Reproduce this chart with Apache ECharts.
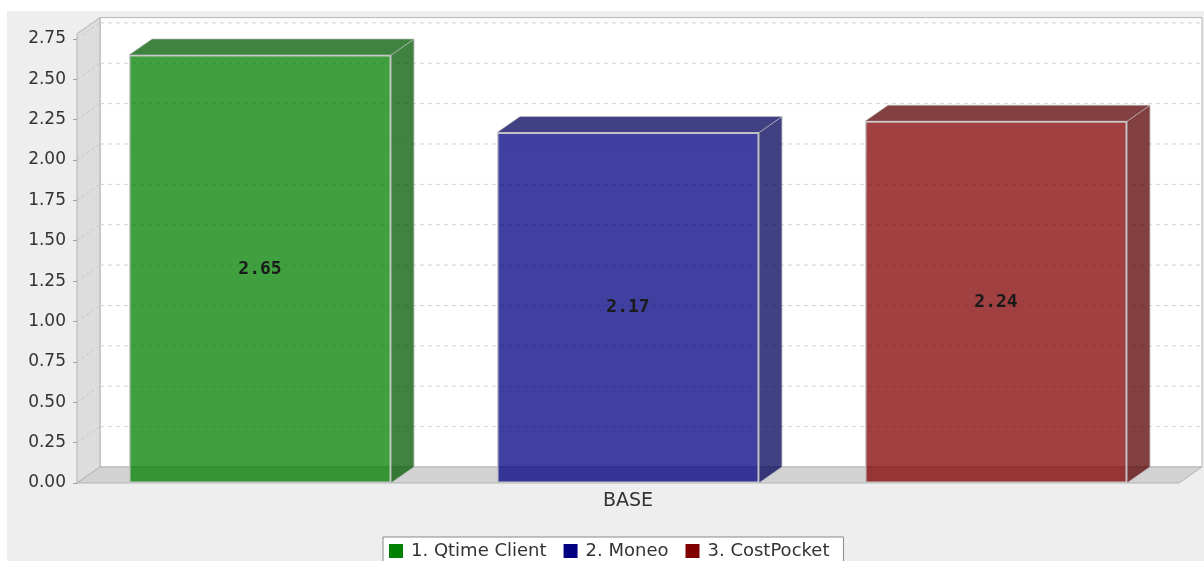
<!DOCTYPE html>
<html><head><meta charset="utf-8">
<script src="https://cdn.jsdelivr.net/npm/echarts@6/dist/echarts.min.js"></script>
<style>html,body{margin:0;padding:0;background:#fff}#c{width:1204px;height:561px}</style>
</head><body><div id="c"></div>
<script>
// ---- data ----
const categories = ['BASE'];
const seriesNames = ['1. Qtime Client', '2. Moneo', '3. CostPocket'];
const seriesValues = [2.65, 2.17, 2.24];
const tickValues = [0, 0.25, 0.5, 0.75, 1.0, 1.25, 1.5, 1.75, 2.0, 2.25, 2.5, 2.75];
const axisMax = 2.7825;

// ---- styles ----
const seriesColors = [[0,128,0],[0,0,128],[128,0,0]];
const DX = 23, DY = 16;          // 3D depth offset
const BAR_W = 262, BAR_GAP = 106;
const ALPHA = 0.75;
const rgba = (c, a) => 'rgba(' + c[0] + ',' + c[1] + ',' + c[2] + ',' + a + ')';
const hex = c => '#' + c.map(v => v.toString(16).padStart(2, '0')).join('');
const darker = c => c.map(v => Math.floor(v * 0.7));

function renderEnv(params, api) {
  const cs = params.coordSys;
  const x0 = cs.x, x1 = cs.x + cs.width, yT = cs.y, yB = cs.y + cs.height;
  const ch = [];
  ch.push({type:'rect', shape:{x:x0+DX, y:yT-DY, width:cs.width, height:cs.height},
           style:{fill:'#ffffff', stroke:'#B4B4B4', lineWidth:1}});
  ch.push({type:'polygon', shape:{points:[[x0,yB],[x0,yT],[x0+DX,yT-DY],[x0+DX,yB-DY]]},
           style:{fill:'#DDDDDD', stroke:'#B4B4B4', lineWidth:1}});
  ch.push({type:'polygon', shape:{points:[[x0,yB],[x1,yB],[x1+DX,yB-DY],[x0+DX,yB-DY]]},
           style:{fill:'#D2D2D2', stroke:'#B4B4B4', lineWidth:1}});
  tickValues.forEach(v => {
    if (v === 0) return;
    const y = api.coord([0, v])[1];
    ch.push({type:'line', shape:{x1:x0+DX, y1:y-DY, x2:x1+DX, y2:y-DY},
             style:{stroke:'#D2D2D2', lineWidth:1, lineDash:[4,4]}});
    ch.push({type:'line', shape:{x1:x0, y1:y, x2:x0+DX, y2:y-DY},
             style:{stroke:'#C6C6C6', lineWidth:1, lineDash:[3,3]}});
  });
  return {type:'group', children:ch};
}

function renderFaces(params, api) {
  const i = api.value(2);
  const n = seriesValues.length;
  const top = api.coord([api.value(0), api.value(1)]);
  const base = api.coord([api.value(0), 0]);
  const cx = top[0] + (i - (n - 1) / 2) * (BAR_W + BAR_GAP);
  const L = cx - BAR_W / 2, R = cx + BAR_W / 2, yT = top[1], yB = base[1];
  const fillC = rgba(darker(seriesColors[i]), ALPHA);
  return {type:'group', children:[
    {type:'polygon', shape:{points:[[R,yT],[R+DX,yT-DY],[R+DX,yB-DY],[R,yB]]},
     style:{fill:fillC, stroke:'rgba(190,190,190,0.9)', lineWidth:1}},
    {type:'polygon', shape:{points:[[L,yT],[R,yT],[R+DX,yT-DY],[L+DX,yT-DY]]},
     style:{fill:fillC, stroke:'rgba(190,190,190,0.6)', lineWidth:1}}
  ]};
}

const series = [{
  type:'custom', silent:true, z:1, clip:false,
  renderItem: renderEnv, data:[[0, 0]]
}];
seriesNames.forEach((name, i) => {
  series.push({
    name: name, type:'bar', z:3,
    barWidth: BAR_W, barGap: (BAR_GAP / BAR_W * 100).toFixed(3) + '%',
    data: [seriesValues[i]],
    itemStyle: {color: rgba(seriesColors[i], ALPHA), borderColor:'rgba(200,200,200,0.95)', borderWidth:1.5},
    label: {show:true, position:'inside', formatter: p => p.value.toFixed(2),
            fontFamily:'DejaVu Sans Mono', fontWeight:'bold', fontSize:18, color:'#1a1a1a'}
  });
});
series.push({
  type:'custom', silent:true, z:3, clip:false,
  renderItem: renderFaces,
  data: seriesValues.map((v, i) => [0, v, i])
});

const chart = echarts.init(document.getElementById('c'), null, {renderer:'canvas'});
chart.setOption({
  backgroundColor:'#ffffff',
  animation:false,
  textStyle:{fontFamily:'DejaVu Sans'},
  graphic:[{type:'rect', left:7, top:11, z:-10, silent:true,
            shape:{width:1197, height:550}, style:{fill:'#EEEEEE'}}],
  grid:{left:77, right:25, top:33.6, bottom:78},
  xAxis:{type:'category', data:categories,
         axisLine:{show:false}, axisTick:{show:false},
         axisLabel:{fontSize:19, color:'#333', margin:9}},
  yAxis:{type:'value', min:0, max:axisMax,
         axisLine:{show:true, lineStyle:{color:'#A0A0A0'}},
         axisTick:{show:true, length:4, lineStyle:{color:'#A0A0A0'}, customValues: tickValues},
         axisLabel:{fontSize:17, color:'#333', margin:11, customValues: tickValues,
                    formatter: v => v.toFixed(2)},
         splitLine:{show:false}},
  legend:{left:383, top:537, orient:'horizontal',
          backgroundColor:'#ffffff', borderColor:'#888888', borderWidth:1, borderRadius:0,
          padding:[5, 14, 5, 6], itemWidth:14, itemHeight:14, itemGap:17, icon:'rect',
          textStyle:{fontSize:18, color:'#333', padding:[0,0,0,3]},
          data: seriesNames.map((n, i) => ({name:n, itemStyle:{color:hex(seriesColors[i]), borderWidth:0}}))},
  series: series
});
</script></body></html>
